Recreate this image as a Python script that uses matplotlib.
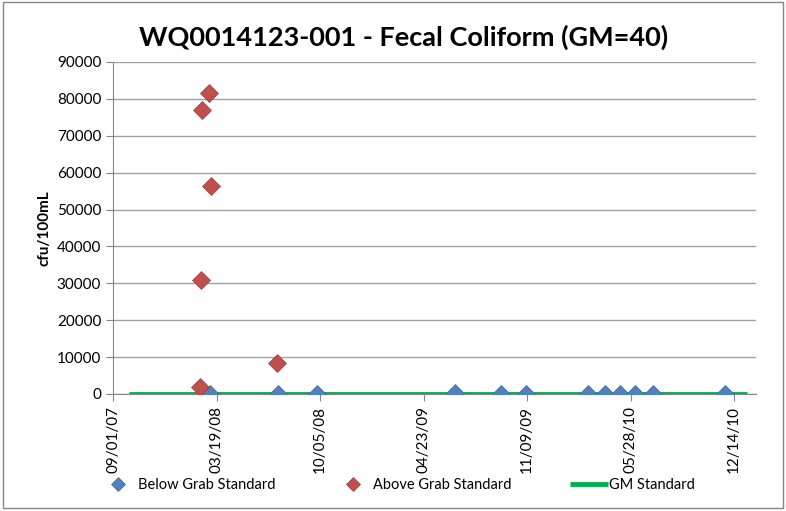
import matplotlib
matplotlib.use("Agg")
import matplotlib.pyplot as plt
import matplotlib.dates as mdates
import numpy as np
import pandas as pd
from matplotlib.patches import Rectangle

plt.rcParams["font.family"] = ["Lato", "DejaVu Sans"]

# --- Data ---
below_dates = ["2008-03-06", "2008-07-15", "2008-09-29", "2009-06-22", "2009-09-19",
               "2009-11-06", "2010-03-06", "2010-04-09", "2010-05-08", "2010-06-05",
               "2010-07-10", "2010-11-26"]
below_vals = [40, 30, 20, 300, 20, 30, 20, 40, 30, 20, 30, 20]

above_dates = ["2008-02-16", "2008-02-18", "2008-02-19", "2008-03-05", "2008-03-08",
               "2008-07-13"]
above_vals = [2000, 30800, 77000, 81700, 56400, 8500]

gm_dates = ["2007-10-01", "2011-01-07"]
gm_vals = [40, 40]

tick_dates = ["2007-09-01", "2008-03-19", "2008-10-05", "2009-04-23",
              "2009-11-09", "2010-05-28", "2010-12-14"]

# --- Plot ---
fig = plt.figure(figsize=(7.86, 5.11), dpi=100)
ax = fig.add_axes([0.1438, 0.229, 0.818, 0.6497])

ax.plot(pd.to_datetime(gm_dates), gm_vals, color="#00B050", lw=3.5, label="GM Standard",
        zorder=2, solid_capstyle="butt")
ax.plot(pd.to_datetime(below_dates), below_vals, ls="none", marker="D", ms=9,
        color="#4F81BD", mec="#3D6AA0", mew=0.5, label="Below Grab Standard", zorder=3)
ax.plot(pd.to_datetime(above_dates), above_vals, ls="none", marker="D", ms=9,
        color="#C0504D", mec="#9A3C3A", mew=0.5, label="Above Grab Standard", zorder=3)

ax.set_xlim(pd.Timestamp("2007-09-01"), pd.Timestamp("2011-01-25"))
ax.set_ylim(0, 90000)
ax.set_yticks(np.arange(0, 90001, 10000))
ax.set_xticks(pd.to_datetime(tick_dates))
ax.xaxis.set_major_formatter(mdates.DateFormatter("%m/%d/%y"))
plt.setp(ax.get_xticklabels(), rotation=90, fontsize=11)
plt.setp(ax.get_yticklabels(), fontsize=11)

ax.grid(axis="y", color="#A0A0A0", lw=1)
ax.set_axisbelow(True)
for s in ["top", "right"]:
    ax.spines[s].set_visible(False)
for s in ["left", "bottom"]:
    ax.spines[s].set_color("#868686")
ax.tick_params(axis="both", color="#868686", length=5, direction="out")

ax.set_ylabel("cfu/100mL", fontsize=11, fontweight="bold")
fig.text(0.513, 0.926, "WQ0014123-001 - Fecal Coliform (GM=40)", fontsize=19.5,
         fontweight="bold", ha="center", va="center")

handles, labels = ax.get_legend_handles_labels()
order = [1, 2, 0]
ax.legend([handles[i] for i in order], [labels[i] for i in order], loc="center",
          bbox_to_anchor=(0.505, 0.05), bbox_transform=fig.transFigure, ncol=3,
          frameon=False, fontsize=10.5, handlelength=2.6, columnspacing=4,
          handletextpad=0.1, markerscale=0.75)

fig.patches.append(Rectangle((0.004, 0.006), 0.992, 0.99, transform=fig.transFigure,
                             fill=False, edgecolor="#868686", lw=1))

fig.savefig("out.png", dpi=100)
